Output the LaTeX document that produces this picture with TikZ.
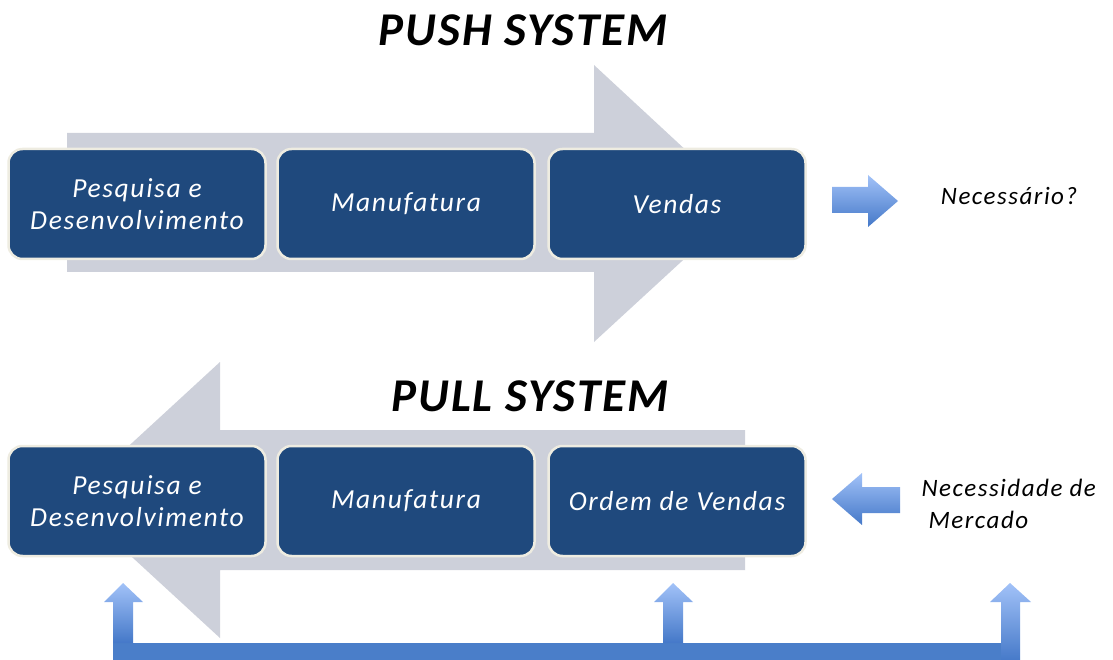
\documentclass[tikz,border=0pt]{standalone}
\usepackage{fontspec}
\setmainfont{Carlito}
\newfontfamily\spacedfont[LetterSpace=6]{Carlito}
\newfontfamily\titlefont[LetterSpace=4]{Carlito}
\begin{document}
\begin{tikzpicture}[x=1pt,y=-1pt]
\definecolor{bigarrow}{HTML}{CDD0DA}
\definecolor{boxfill}{HTML}{1F497D}
\definecolor{boxline}{HTML}{EEECE1}
\definecolor{arrlight}{HTML}{A2C2F8}
\definecolor{arrdark}{HTML}{4478C8}
\definecolor{barcol}{HTML}{4A7EC9}
\tikzset{
  stage/.style={rectangle, rounded corners=14pt, fill=boxfill, draw=boxline,
    line width=2.5pt, minimum width=257pt, minimum height=110pt,
    text=white, align=center, font=\spacedfont\fontsize{27.5}{32}\selectfont\itshape, inner sep=0pt},
  title/.style={font=\titlefont\fontsize{47}{52}\selectfont\bfseries\itshape},
  note/.style={font=\spacedfont\fontsize{25}{32}\selectfont\itshape, align=left},
  bluearrow/.style={top color=arrlight, bottom color=arrdark, draw=none}
}
\useasboundingbox (0,0) rectangle (1113,660);

% titles
\node[title] (tpush) at (523,30) {PUSH SYSTEM};
\node[title] (tpull) at (530,396) {PULL SYSTEM};

% large gray arrows
\fill[bigarrow] (67,133) -- (594,133) -- (594,65) -- (744,204) -- (594,342)
  -- (594,272) -- (67,272) -- cycle;
\fill[bigarrow] (745,430) -- (220,430) -- (220,362) -- (70,500) -- (220,638)
  -- (220,570) -- (745,570) -- cycle;

% push stages
\node[stage] (pd1) at (137,204) {Pesquisa e\\Desenvolvimento};
\node[stage] (mf1) at (406,204) {Manufatura};
\node[stage] (vd1) at (677,204) {Vendas};

% pull stages
\node[stage] (pd2) at (137,501) {Pesquisa e\\Desenvolvimento};
\node[stage] (mf2) at (406,501) {Manufatura};
\node[stage] (vd2) at (677,501) {Ordem de Vendas};

% side arrows and notes
\shade[bluearrow] (832,187) -- (868,187) -- (868,175) -- (898,201) -- (868,227)
  -- (868,213) -- (832,213) -- cycle;
\node[note] (need) at (1009,196) {Necessário?};

\shade[bluearrow] (900,487) -- (862,487) -- (862,473) -- (832,499) -- (862,525)
  -- (862,513) -- (900,513) -- cycle;
\node[note, anchor=west] (mkt1) at (918,488) {Necessidade de};
\node[note, anchor=west] (mkt2) at (925,520) {Mercado};

% feedback bar with up arrows
\fill[barcol] (113,643) rectangle (1020,662);
\shade[bluearrow] (113,643) -- (113,602) -- (104,602) -- (123,583) -- (143,602)
  -- (133,602) -- (133,643) -- cycle;
\shade[bluearrow] (663,643) -- (663,602) -- (654,602) -- (673,583) -- (693,602)
  -- (683,602) -- (683,643) -- cycle;
\shade[bluearrow] (1001,662) -- (1001,602) -- (990,602) -- (1010,583) -- (1031,602)
  -- (1020,602) -- (1020,662) -- cycle;
\end{tikzpicture}
\end{document}
